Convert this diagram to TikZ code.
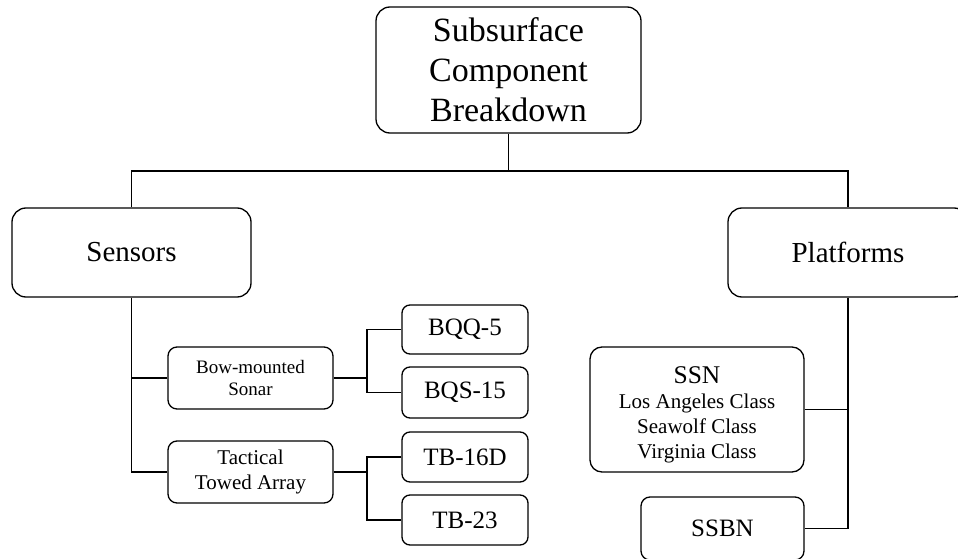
\documentclass[tikz,border=0pt]{standalone}
\usepackage{fontspec}
\setmainfont{Liberation Serif}
\begin{document}
\begin{tikzpicture}[x=1pt,y=-1pt,
  box/.style={draw=black,line width=1.3pt,rounded corners=#1,inner sep=0pt,align=center,anchor=center},
  box/.default=14pt,
  conn/.style={draw=black,line width=1.2pt}]
\useasboundingbox (0,0) rectangle (958,559);
\clip (0,0) rectangle (958,559);
\fill[white] (0,0) rectangle (958,559);
\node[box,minimum width=265pt,minimum height=126pt,font=\fontsize{34}{40}\selectfont] (top) at (508.5,70) {Subsurface\\Component\\Breakdown};
\node[box,minimum width=239pt,minimum height=89pt,font=\fontsize{29}{34}\selectfont] (sens) at (131.5,252.5) {Sensors};
\node[box,minimum width=240pt,minimum height=89pt,font=\fontsize{29}{34}\selectfont] (plat) at (848,252.5) {Platforms};
\node[box=9pt,minimum width=165pt,minimum height=62pt,font=\fontsize{19}{22}\selectfont] (bow) at (250.5,378) {Bow-mounted\\Sonar};
\node[box=9pt,minimum width=165pt,minimum height=62pt,font=\fontsize{21}{25}\selectfont] (tac) at (250.5,472) {Tactical\\Towed Array};
\node[box=8pt,minimum width=126pt,minimum height=49pt,font=\fontsize{25}{28}\selectfont] (bqq) at (465,329.5) {BQQ-5};
\node[box=8pt,minimum width=126pt,minimum height=51pt,font=\fontsize{25}{28}\selectfont] (bqs) at (465,392.5) {BQS-15};
\node[box=8pt,minimum width=126pt,minimum height=50pt,font=\fontsize{25}{28}\selectfont] (tb16) at (465,457) {TB-16D};
\node[box=8pt,minimum width=126pt,minimum height=50pt,font=\fontsize{25}{28}\selectfont] (tb23) at (465,520) {TB-23};
\node[box=12pt,minimum width=214pt,minimum height=125pt,font=\fontsize{21}{25}\selectfont] (ssn) at (697,409.5) {{\fontsize{25.5}{27}\selectfont\rule{0pt}{27pt}SSN}\\Los Angeles Class\\Seawolf Class\\Virginia Class};
\node[box=9pt,minimum width=163pt,minimum height=63pt,font=\fontsize{25}{28}\selectfont] (ssbn) at (722.5,528.5) {SSBN};
\coordinate (hub) at (508.5,171);
\coordinate (j1) at (367,378);
\coordinate (j2) at (367,472);
\draw[conn] (top.south) -- (hub);
\draw[conn] (sens.north) |- (hub) -| (plat.north);
\draw[conn] (sens.south) |- (tac.west);
\draw[conn] (bow.west) -- (bow.west -| sens.south);
\draw[conn] (bow.east) -- (j1);
\draw[conn] (bqq.west) -| (j1) |- (bqs.west);
\draw[conn] (tac.east) -- (j2);
\draw[conn] (tb16.west) -| (j2) |- (tb23.west);
\draw[conn] (plat.south) |- (ssbn.east);
\draw[conn] (ssn.east) -- (ssn.east -| plat.south);
\end{tikzpicture}
\end{document}
